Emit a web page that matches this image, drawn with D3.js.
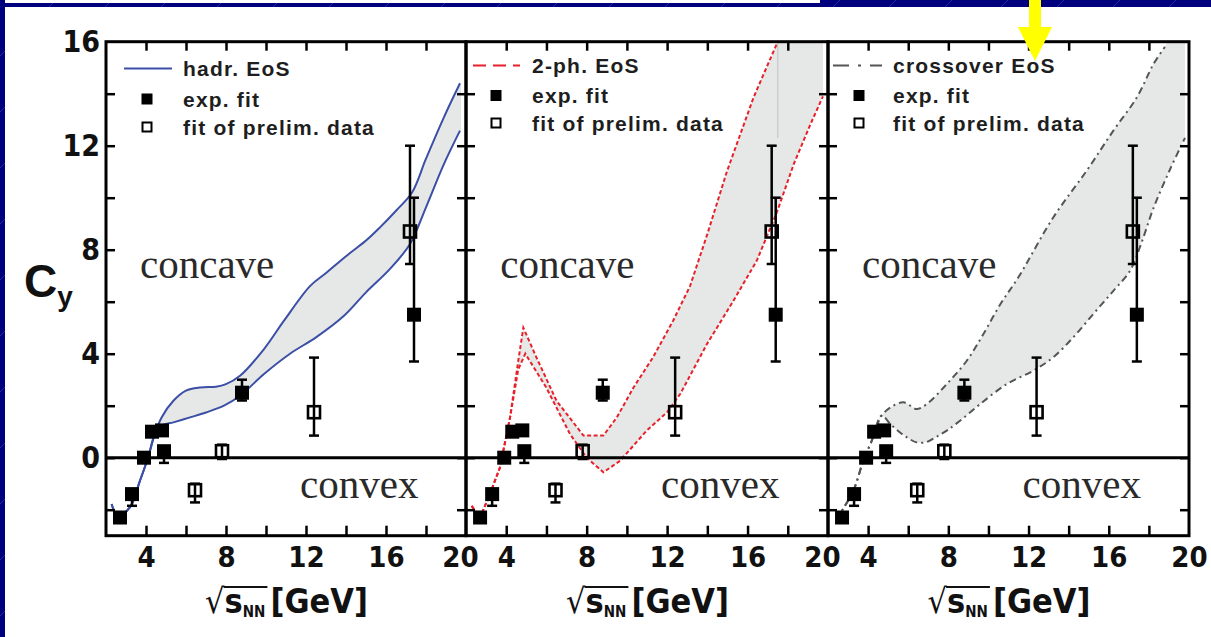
<!DOCTYPE html>
<html><head><meta charset="utf-8">
<script src="https://cdn.jsdelivr.net/npm/d3@7"></script>
<style>body{margin:0;background:#00007f;overflow:hidden} svg{display:block}</style>
</head><body>
<svg id="c" width="1211" height="637"></svg>
<script>
// ---------------- data ----------------
const xDomain = [2, 20];
const yDomain = [-3, 16];
const xMinorTicks = [4, 6, 8, 10, 12, 14, 16, 18];
const xTickLabels = [4, 8, 12, 16, 20];
const yMinorTicks = [-2, 0, 2, 4, 6, 8, 10, 12, 14];
const yTickLabels = [0, 4, 8, 12, 16];
const modelNames = ["hadr. EoS", "2-ph. EoS", "crossover EoS"];
const legendLabels = ["exp. fit", "fit of prelim. data"];
const regionLabels = ["concave", "convex"];
// [sqrt(sNN), Cy, errLow, errHigh]
const expFit = [[2.7,-2.3,-2.3,-2.3],[3.3,-1.4,-1.85,-1.4],[3.9,0.0,0.0,0.0],[4.3,1.0,1.0,1.0],
  [4.8,1.05,1.05,1.05],[4.9,0.25,-0.2,0.25],[8.8,2.5,2.2,3.0],[17.4,5.5,3.7,10.0]];
const prelimFit = [[6.45,-1.25,-1.72,-1.0],[7.8,0.25,-0.05,0.5],[12.4,1.75,0.85,3.85],[17.2,8.7,7.45,12.0]];
// model bands (upper / lower edges)
const hadrUpper = [[2.28,-1.78],[2.6,-2.25],[3.2,-1.9],[3.7,-0.88],[4.1,0.0],[4.45,0.92],[4.78,1.55],[5.37,2.19],
  [6.0,2.58],[6.7,2.7],[7.5,2.73],[8.0,2.83],[8.7,3.15],[9.9,4.18],[10.9,5.27],[12.2,6.6],[13.0,7.1],[14.0,7.75],
  [15.0,8.35],[15.7,8.86],[16.5,9.5],[17.3,10.2],[18.0,11.5],[18.9,13.1],[19.7,14.4]];
const hadrLower = [[2.28,-1.78],[2.6,-2.25],[3.2,-1.9],[3.7,-0.88],[4.1,0.0],[4.45,0.92],[4.78,1.23],[5.37,1.36],
  [6.2,1.55],[7.0,1.74],[7.9,2.0],[8.7,2.38],[9.9,3.22],[11.2,4.0],[12.5,4.63],[13.9,5.46],[15.0,6.36],[16.2,7.26],
  [17.2,8.22],[18.0,9.63],[18.9,11.3],[19.7,12.58]];
const twoPhUpper = [[2.28,-1.85],[2.7,-2.3],[3.19,-1.4],[3.69,-0.37],[4.19,1.55],[4.6,3.73],[4.85,5.0],[5.5,3.86],
  [6.5,2.19],[7.84,0.85],[8.83,0.85],[9.5,1.55],[10.33,2.7],[11.3,3.86],[12.3,5.27],[13.14,6.6],[14.0,8.6],
  [14.97,11.0],[16.3,13.86],[17.5,16.0]];
const twoPhLower = [[2.28,-1.85],[2.7,-2.3],[3.19,-1.4],[3.69,-0.37],[4.19,1.55],[4.6,3.4],[4.95,4.0],[5.99,2.7],
  [7.17,0.91],[8.0,0.0],[8.83,-0.56],[9.66,-0.12],[10.98,1.04],[12.0,1.75],[12.65,2.45],[13.98,4.37],[15.3,6.04],
  [16.46,7.58],[17.46,9.44],[18.3,11.3],[19.13,12.83],[19.75,13.9]];
const crossUpper = [[2.4,-2.4],[3.26,-1.27],[3.76,-0.12],[4.18,0.65],[4.68,1.62],[5.26,2.0],[5.76,2.13],[6.1,2.0],
  [6.42,1.87],[6.92,2.06],[7.92,2.83],[8.92,3.73],[9.75,4.76],[10.6,5.91],[11.5,6.95],[13.23,9.24],[14.9,11.04],
  [16.23,12.58],[17.4,13.86],[18.23,15.14],[18.8,15.8]];
const crossLower = [[2.4,-2.4],[3.26,-1.27],[3.76,-0.12],[4.18,0.65],[4.68,1.62],[5.1,1.3],[5.59,0.97],[6.0,0.75],
  [6.42,0.59],[6.9,0.6],[7.4,0.8],[7.92,1.04],[8.58,1.42],[9.58,2.06],[10.91,2.83],[12.24,3.35],[13.23,3.86],
  [14.23,4.63],[15.23,5.53],[16.23,6.42],[17.06,7.19],[17.6,8.2],[18.23,9.6],[19.06,11.1],[19.8,12.3]];
// band closing points at the top/right edge of each panel
const hadrClose = [[19.75,14.4],[19.75,12.58]];
const twoPhClose = [[19.75,16.0],[19.75,13.9]];
const crossClose = [[18.9,16.0],[19.8,16.0],[19.8,12.3]];

// ---------------- layout ----------------
const svg = d3.select("#c");
const W = 1211, H = 637;
const defs = svg.append("defs");
const pat = defs.append("pattern").attr("id","diag").attr("patternUnits","userSpaceOnUse")
  .attr("width",56).attr("height",56);
pat.append("rect").attr("width",56).attr("height",56).attr("fill","#00007f");
pat.append("path").attr("d","M0,56 L56,0").attr("stroke","#4a4ab8").attr("stroke-width",0.8).attr("opacity",0.7);
svg.append("rect").attr("width",W).attr("height",H).attr("fill","url(#diag)");
svg.append("rect").attr("x",5).attr("y",0).attr("width",815).attr("height",3).attr("fill","#fff");
svg.append("rect").attr("x",5).attr("y",7).attr("width",W-5).attr("height",H-7).attr("fill","#fff");

const panels = [
  {L:106, R:466, up:hadrUpper, lo:hadrLower, close:hadrClose, color:"#3b4fa6", dash:null, curve:d3.curveCatmullRom.alpha(0.5), lg:{line:[124,172], sq:147, tx:183, rows:[68.5,99,127]}},
  {L:466, R:828, up:twoPhUpper, lo:twoPhLower, close:twoPhClose, color:"#e8202a", dash:"4,2.5", curve:d3.curveLinear, lg:{line:[473,520], sq:496, tx:532, rows:[65.5,95.5,123]}},
  {L:828, R:1189, up:crossUpper, lo:crossLower, close:crossClose, color:"#555", dash:"7,4,2,4", curve:d3.curveCatmullRom.alpha(0.5), lg:{line:[833,882], sq:859, tx:893, rows:[65.5,95.5,123]}}
];
const legendDash = [null, "13,7", "16,9,3,9"];
const y = d3.scaleLinear().domain(yDomain).range([535.7, 41.7]);
const tickFont = "'Liberation Sans Narrow','DejaVu Sans Condensed','Liberation Sans',Arial,sans-serif";

panels.forEach((p, i) => {
  const x = d3.scaleLinear().domain(xDomain).range([p.L, p.R]);
  const g = svg.append("g");
  const cid = "clip"+i;
  defs.append("clipPath").attr("id",cid).append("rect")
    .attr("x",p.L).attr("y",y(16)).attr("width",p.R-p.L).attr("height",y(-3)-y(16));
  const pg = g.append("g").attr("clip-path",`url(#${cid})`);
  const line = d3.line().x(d=>x(d[0])).y(d=>y(d[1])).curve(p.curve);
  // band fill
  const upPath = line(p.up);
  const closePts = p.close.map(d=>`L${x(d[0])},${y(d[1])}`).join("");
  const loRev = line(p.lo.slice().reverse()).replace(/^M/,"L");
  pg.append("path").attr("d", upPath + closePts + loRev + "Z").attr("fill","#e6e7e7").attr("stroke","none");
  if (i===1) {
    pg.append("line").attr("x1",x(17.5)).attr("x2",x(17.5)).attr("y1",y(16)).attr("y2",y(12.3))
      .attr("stroke","#c8c8c8").attr("stroke-width",1.2);
  }
  [p.up, p.lo].forEach(arr => {
    pg.append("path").attr("d", line(arr)).attr("fill","none").attr("stroke",p.color)
      .attr("stroke-width",2).attr("stroke-dasharray",p.dash);
  });
  // zero line
  g.append("line").attr("x1",p.L).attr("x2",p.R).attr("y1",y(0)).attr("y2",y(0))
    .attr("stroke","#000").attr("stroke-width",3);
  // region labels
  g.append("text").attr("x",x(3.7)).attr("y",y(6.9)).text(regionLabels[0])
    .attr("font-family","'Liberation Serif','Times New Roman',serif").attr("font-size",41).attr("fill","#2a2a2a");
  g.append("text").attr("x",x(11.7)).attr("y",y(-1.55)).text(regionLabels[1])
    .attr("font-family","'Liberation Serif','Times New Roman',serif").attr("font-size",41).attr("fill","#2a2a2a");
  // error bars
  const eb = (arr) => {
    arr.filter(d=>d[2]!==d[3]).forEach(d => {
      const xx = x(d[0]);
      g.append("line").attr("x1",xx).attr("x2",xx).attr("y1",y(d[2])).attr("y2",y(d[3]))
        .attr("stroke","#000").attr("stroke-width",2.5);
      [d[2],d[3]].forEach(v => { if (v!==d[1]) g.append("line").attr("x1",xx-5).attr("x2",xx+5)
        .attr("y1",y(v)).attr("y2",y(v)).attr("stroke","#000").attr("stroke-width",2.5); });
    });
  };
  eb(prelimFit); eb(expFit);
  g.selectAll(null).data(prelimFit).enter().append("rect")
    .attr("x",d=>x(d[0])-6).attr("y",d=>y(d[1])-6).attr("width",12).attr("height",12)
    .attr("fill","none").attr("stroke","#000").attr("stroke-width",2.6);
  g.selectAll(null).data(expFit).enter().append("rect")
    .attr("x",d=>x(d[0])-7).attr("y",d=>y(d[1])-7).attr("width",14).attr("height",14).attr("fill","#000");
  // frame
  g.append("rect").attr("x",p.L).attr("y",y(16)).attr("width",p.R-p.L).attr("height",y(-3)-y(16))
    .attr("fill","none").attr("stroke","#000").attr("stroke-width",3);
  // ticks
  const tk = (sel) => { sel.select(".domain").remove(); sel.selectAll("line").attr("stroke","#000").attr("stroke-width",2.5); sel.selectAll("text").remove(); };
  g.append("g").attr("transform",`translate(0,${y(-3)})`).call(d3.axisBottom(x).tickValues(xMinorTicks).tickSize(-10)).call(tk);
  g.append("g").attr("transform",`translate(0,${y(16)})`).call(d3.axisTop(x).tickValues(xMinorTicks).tickSize(-9)).call(tk);
  g.append("g").attr("transform",`translate(${p.L},0)`).call(d3.axisLeft(y).tickValues(yMinorTicks).tickSize(-9)).call(tk);
  g.append("g").attr("transform",`translate(${p.R},0)`).call(d3.axisRight(y).tickValues(yMinorTicks).tickSize(-9)).call(tk);
  // tick labels
  const xl = g.append("g").attr("transform",`translate(0,${y(-3)})`)
    .call(d3.axisBottom(x).tickValues(xTickLabels).tickSize(0).tickPadding(10).tickFormat(d3.format("d")));
  xl.select(".domain").remove();
  xl.selectAll("text").attr("font-family",tickFont).attr("font-weight","bold").attr("font-size",29).attr("fill","#111")
    .attr("dy","0.72em");
  if (i < 2) xl.selectAll("text").filter(d=>d===20).attr("dx",-6);
  if (i===0) {
    const yl = g.append("g").attr("transform",`translate(${p.L},0)`)
      .call(d3.axisLeft(y).tickValues(yTickLabels).tickSize(0).tickPadding(6).tickFormat(d3.format("d")));
    yl.select(".domain").remove();
    yl.selectAll("text").attr("font-family",tickFont).attr("font-weight","bold").attr("font-size",30).attr("fill","#111");
  }
  // axis title
  const cx = (p.L + p.R)/2 - 2;
  const t = g.append("text").attr("y",613).attr("font-family",tickFont).attr("font-weight","bold")
    .attr("font-size",34).attr("fill","#111");
  const t0 = t.append("tspan").text("√").attr("font-weight","normal");
  const t1 = t.append("tspan").text("s");
  const t2 = t.append("tspan").text("NN").attr("font-size",15).attr("dy",4);
  const t3 = t.append("tspan").text("[GeV]").attr("dy",-4).attr("dx",5);
  const total = t.node().getComputedTextLength();
  t.attr("x", cx - total/2);
  const w0 = t0.node().getComputedTextLength(), w1 = t1.node().getComputedTextLength(), w2 = t2.node().getComputedTextLength();
  const sx = cx - total/2 + w0 - 1;
  g.append("line").attr("x1",sx).attr("x2",sx + w1 + w2 + 3).attr("y1",587).attr("y2",587)
    .attr("stroke","#111").attr("stroke-width",2.2);
  // legend
  const lg = p.lg;
  g.append("line").attr("x1",lg.line[0]).attr("x2",lg.line[1]).attr("y1",lg.rows[0]).attr("y2",lg.rows[0])
    .attr("stroke",p.color).attr("stroke-width",2.2).attr("stroke-dasharray",legendDash[i]);
  g.append("rect").attr("x",lg.sq-5.5).attr("y",lg.rows[1]-5.5).attr("width",11).attr("height",11).attr("fill","#000");
  g.append("rect").attr("x",lg.sq-4.5).attr("y",lg.rows[2]-4.5).attr("width",9).attr("height",9)
    .attr("fill","#fff").attr("stroke","#000").attr("stroke-width",2);
  [modelNames[i], legendLabels[0], legendLabels[1]].forEach((s, k) => {
    g.append("text").attr("x",lg.tx).attr("y",lg.rows[k]).attr("dy","0.36em").text(s)
      .attr("font-family","'Liberation Sans',Arial,sans-serif").attr("font-weight","bold").attr("font-size",21)
      .attr("letter-spacing",1.2).attr("fill","#1e1e1e");
  });
});

// y-axis title C_y
const yt = svg.append("text").attr("x",24).attr("y",297)
  .attr("font-family","'Liberation Sans',Arial,sans-serif").attr("font-weight","bold").attr("font-size",46).attr("fill","#111");
yt.append("tspan").text("C");
yt.append("tspan").text("y").attr("font-size",28).attr("dy",9);

// yellow arrow
svg.append("path").attr("d","M1029,0 L1041,0 L1041,27 L1052,27 L1035,61 L1018,27 L1029,27 Z").attr("fill","#ffff00");
</script>
</body></html>
